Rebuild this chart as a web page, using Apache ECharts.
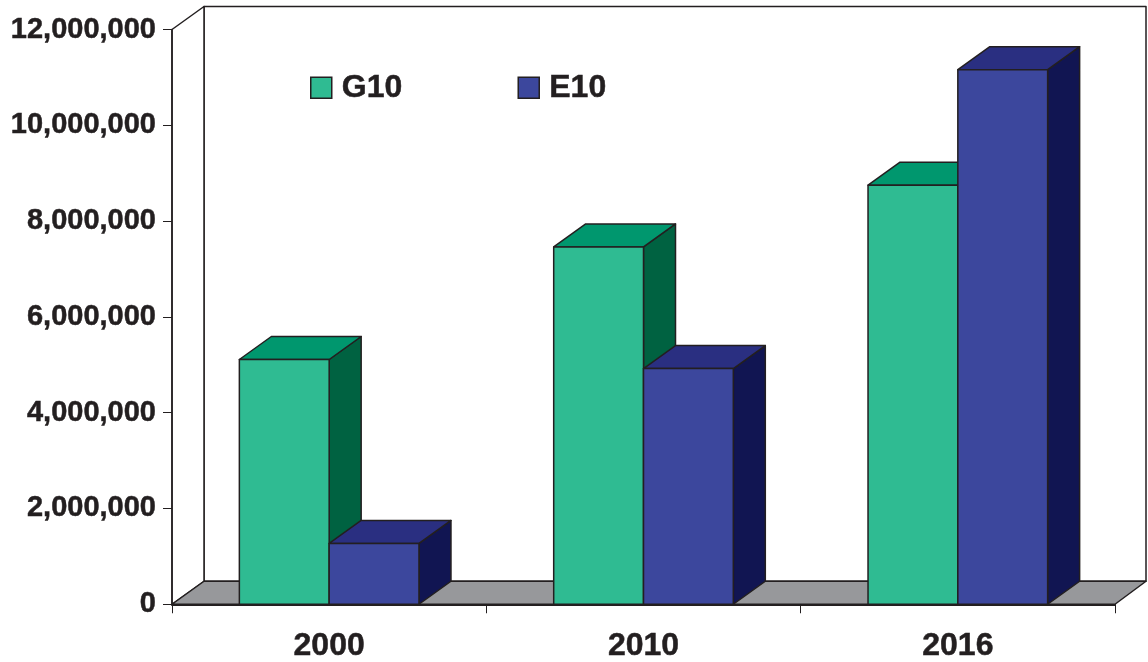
<!DOCTYPE html>
<html>
<head>
<meta charset="utf-8">
<title>G10 and E10</title>
<style>
html, body { margin: 0; padding: 0; background: #ffffff; }
#chart { width: 1148px; height: 662px; }
</style>
<script src="https://cdn.jsdelivr.net/npm/echarts@6/dist/echarts.min.js"></script>
</head>
<body>
<div id="chart"></div>
<script>
// Yearly volumes per fuel blend
const categories = ['2000', '2010', '2016'];
const g10Values = [5110000, 7460000, 8750000];
const e10Values = [1270000, 4920000, 11160000];

const INK = '#231F20';
const FONT = '"Liberation Sans", Arial, sans-serif';
const DEPTH_X = 32;
const DEPTH_Y = 23;
const BAR_SHARE = 0.2857;

const g10Shades = { front: '#2FBB92', top: '#00976E', side: '#006241' };
const e10Shades = { front: '#3C479D', top: '#2A2F81', side: '#111552' };

function poly(points, fill, lineWidth) {
  return {
    type: 'polygon',
    shape: { points: points },
    style: { fill: fill, stroke: INK, lineWidth: lineWidth || 1.5, lineJoin: 'round' }
  };
}

// Extruded bar: front face plus top and side faces offset by the depth vector
function barRenderer(shades, direction) {
  return function (params, api) {
    const top = api.coord([api.value(0), api.value(1)]);
    const base = api.coord([api.value(0), 0]);
    const w = api.size([1, 0])[0] * BAR_SHARE;
    const x0 = direction < 0 ? top[0] - w : top[0];
    const x1 = x0 + w;
    return {
      type: 'group',
      children: [
        poly([[x1, top[1]], [x1 + DEPTH_X, top[1] - DEPTH_Y], [x1 + DEPTH_X, base[1] - DEPTH_Y], [x1, base[1]]], shades.side),
        poly([[x0, top[1]], [x0 + DEPTH_X, top[1] - DEPTH_Y], [x1 + DEPTH_X, top[1] - DEPTH_Y], [x1, top[1]]], shades.top),
        poly([[x0, top[1]], [x1, top[1]], [x1, base[1]], [x0, base[1]]], shades.front)
      ]
    };
  };
}

// Back wall, side edge and grey floor of the box behind the bars
function renderBox(params) {
  const g = params.coordSys;
  const left = g.x, right = g.x + g.width, top = g.y, bottom = g.y + g.height;
  return {
    type: 'group',
    children: [
      poly([[left + DEPTH_X, top - DEPTH_Y], [right + DEPTH_X - 1, top - DEPTH_Y], [right + DEPTH_X - 1, bottom - DEPTH_Y], [left + DEPTH_X, bottom - DEPTH_Y]], '#ffffff'),
      poly([[left, top], [left + DEPTH_X, top - DEPTH_Y], [left + DEPTH_X, bottom - DEPTH_Y], [left, bottom]], '#ffffff'),
      poly([[left, bottom], [left + DEPTH_X, bottom - DEPTH_Y], [right + DEPTH_X - 1, bottom - DEPTH_Y], [right, bottom]], '#97989B')
    ]
  };
}

function toPairs(values) {
  return values.map(function (v, i) { return [i, v]; });
}

const chart = echarts.init(document.getElementById('chart'), null, { renderer: 'canvas' });
chart.setOption({
  animation: false,
  backgroundColor: '#ffffff',
  grid: { left: 172, right: 33, top: 29.5, bottom: 56.5 },
  legend: {
    data: ['G10', 'E10'],
    left: 305,
    top: 66.5,
    itemWidth: 21,
    itemHeight: 21,
    itemGap: 115,
    icon: 'rect',
    selectedMode: false,
    itemStyle: { borderColor: INK, borderWidth: 1.5 },
    textStyle: { color: INK, fontFamily: FONT, fontWeight: 'bold', fontSize: 32, padding: [0, 0, 0, 5], textBorderColor: INK, textBorderWidth: 0.5 }
  },
  xAxis: {
    type: 'category',
    data: categories,
    boundaryGap: true,
    z: 5,
    axisLine: { lineStyle: { color: INK, width: 2 } },
    axisTick: { show: true, alignWithLabel: false, length: 9, lineStyle: { color: INK, width: 1 } },
    axisLabel: { color: INK, fontFamily: FONT, fontWeight: 'bold', fontSize: 32, margin: 25.5, textBorderColor: INK, textBorderWidth: 0.5 },
    splitLine: { show: false }
  },
  yAxis: {
    type: 'value',
    min: 0,
    max: 12000000,
    interval: 2000000,
    z: 5,
    axisLine: { show: true, lineStyle: { color: INK, width: 1.5 } },
    axisTick: { show: true, length: 9, lineStyle: { color: INK, width: 1 } },
    axisLabel: {
      color: INK,
      fontFamily: FONT,
      fontWeight: 'bold',
      fontSize: 29,
      margin: 16,
      textBorderColor: INK,
      textBorderWidth: 0.5,
      formatter: function (v) { return v.toLocaleString('en-US'); }
    },
    splitLine: { show: false }
  },
  series: [
    {
      name: 'box',
      type: 'custom',
      z: 1,
      silent: true,
      data: [[0, 0]],
      encode: { x: 0, y: 1 },
      renderItem: renderBox
    },
    {
      name: 'G10',
      type: 'custom',
      z: 2,
      itemStyle: { color: g10Shades.front },
      data: toPairs(g10Values),
      encode: { x: 0, y: 1 },
      renderItem: barRenderer(g10Shades, -1)
    },
    {
      name: 'E10',
      type: 'custom',
      z: 3,
      itemStyle: { color: e10Shades.front },
      data: toPairs(e10Values),
      encode: { x: 0, y: 1 },
      renderItem: barRenderer(e10Shades, 1)
    }
  ]
});
</script>
</body>
</html>
